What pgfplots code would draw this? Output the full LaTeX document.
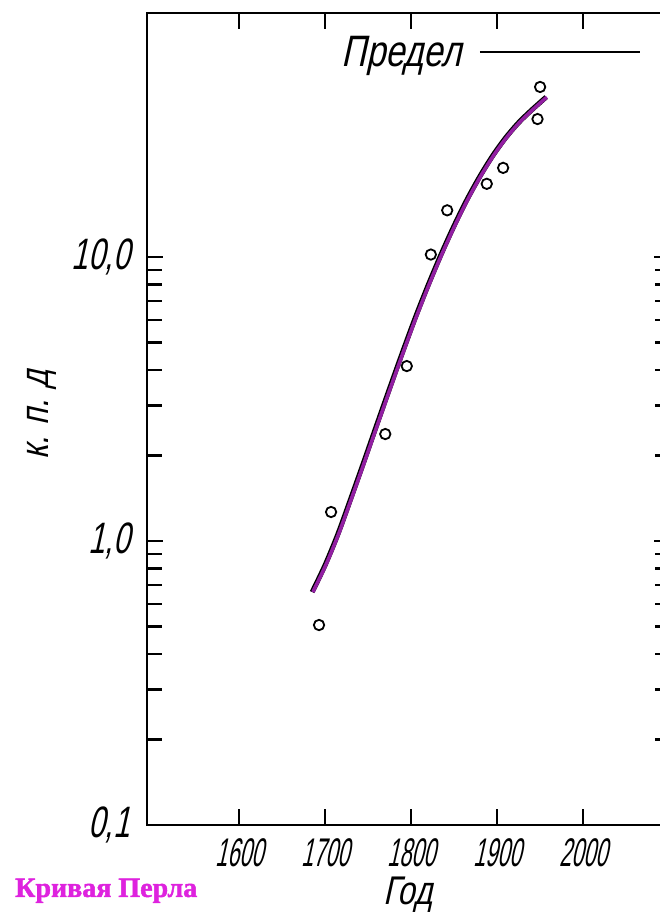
\documentclass[border=0pt]{standalone}
\usepackage{pgfplots}
\pgfplotsset{compat=1.18}
\usepackage{fontspec}
\setmainfont{Liberation Sans}
\newfontfamily\gostx{Liberation Sans}[FakeStretch=0.54, FakeSlant=0.22]
\newfontfamily\gosty{Liberation Sans}[FakeStretch=0.68, FakeSlant=0.22]
\newfontfamily\gost{Liberation Sans}[FakeStretch=0.78, FakeSlant=0.22]
\newfontfamily\pearlfont{Liberation Serif}[FakeBold=1.5]
\definecolor{curvepurple}{HTML}{921FA2}
\definecolor{pearlpink}{HTML}{DE22DE}

\begin{document}
\begin{tikzpicture}
\begin{axis}[
  at={(0,0)}, anchor=south west,
  scale only axis, width=261.5pt, height=406pt,
  ymode=log, xmin=1493, xmax=2101, ymin=0.1, ymax=72.3,
  xtick={1600,1700,1800,1900,2000},
  xticklabels={1600,1700,1800,1900,2000},
  minor x tick num=0,
  ytick={0.1,1,10},
  yticklabels={{0,1},{1,0},{10,0}},
  xtick pos=both, ytick pos=both, tick align=inside,
  every tick/.style={black, line width=1.1pt},
  major tick length=8pt, minor tick length=7.5pt,
  axis line style={line width=1.2pt},
  x tick label style={font=\gostx\fontsize{20}{22}\selectfont, yshift=-3pt},
  y tick label style={font=\gosty\fontsize{22}{24}\selectfont, xshift=-5pt},
  xlabel={Год}, ylabel={к. п. д},
  label style={font=\gost\fontsize{20}{22}\selectfont},
  xlabel style={at={(axis description cs:0.499,-0.086)}, anchor=center},
  ylabel style={at={(axis description cs:-0.201,0.505)}, anchor=center},
  clip=false,
]
% Pearl curve
\addplot[black, line width=2.5pt, smooth] coordinates {
  (1685,0.661) (1700,0.822) (1715,1.059) (1730,1.413) (1745,1.897)
  (1760,2.559) (1775,3.443) (1790,4.613) (1805,6.124) (1820,7.980)
  (1835,10.23) (1850,12.88) (1865,15.92) (1880,19.23) (1895,22.75)
  (1910,26.30) (1925,29.72) (1940,32.89) (1957,36.56)};
\addplot[curvepurple, line width=1.8pt, smooth, xshift=0.35pt] coordinates {
  (1685,0.661) (1700,0.822) (1715,1.059) (1730,1.413) (1745,1.897)
  (1760,2.559) (1775,3.443) (1790,4.613) (1805,6.124) (1820,7.980)
  (1835,10.23) (1850,12.88) (1865,15.92) (1880,19.23) (1895,22.75)
  (1910,26.30) (1925,29.72) (1940,32.89) (1957,36.56)};
% observed efficiencies
\addplot[only marks, mark=o, mark size=2.6pt, mark options={line width=0.9pt, fill=white}] coordinates {
  (1693,0.506) (1707,1.265) (1770,2.38) (1795,4.13) (1823,10.2)
  (1842,14.6) (1888,18.1) (1907,20.6) (1947,30.6) (1950,39.7)};
% limit line
\addplot[black, line width=0.9pt] coordinates {(1880,52.7) (2066,52.7)};
\node[anchor=base east, font=\gost\fontsize{22}{24}\selectfont, inner sep=0pt] at (axis cs:1859,47.0) {Предел};
\node[anchor=center, font=\pearlfont\bfseries\fontsize{14}{16}\selectfont, text=pearlpink] at (axis description cs:-0.078,-0.081) {Кривая Перла};
\end{axis}
\pgfresetboundingbox
\useasboundingbox (-73.5pt,-49pt) rectangle (256.5pt,412.5pt);
\end{tikzpicture}
\end{document}
